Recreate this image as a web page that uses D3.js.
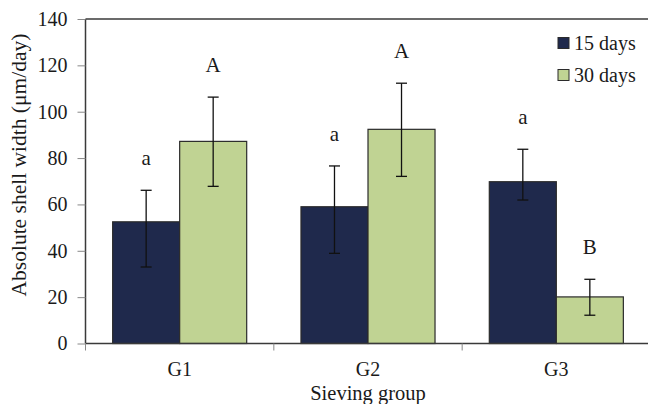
<!DOCTYPE html>
<html>
<head>
<meta charset="utf-8">
<script src="https://cdn.jsdelivr.net/npm/d3@7"></script>
<style>
  body { margin:0; background:#fff; }
  svg text { font-family:'Liberation Serif','DejaVu Serif',serif !important; fill:#1a1a1a; }
</style>
</head>
<body>
<svg id="chart" width="648" height="404"></svg>
<script>
/* ---------- data ---------------------------------------- */
const groups   = ['G1','G2','G3'];
const series   = ['15 days','30 days'];
const mean15   = [52.5, 59.0, 69.8];
const mean30   = [87.2, 92.4, 20.1];
const hi15     = [66.1, 76.6, 83.8];     // error bar top
const lo15     = [33.0, 38.9, 61.9];     // error bar bottom
const hi30     = [106.3, 112.3, 27.7];
const lo30     = [67.8, 72.1, 12.2];
const letters15 = ['a','a','a'];
const letters30 = ['A','A','B'];
const yTicks   = [0,20,40,60,80,100,120,140];

const colours = ['#1f294c','#c0d393'];
const FONT = "'Liberation Serif','DejaVu Serif',serif";

/* ---------- svg & scales -------------------------------- */
const svg = d3.select('#chart');
const L = 85.5, R = 650.5, T = 19, B = 343.5;

const x0 = d3.scaleBand().domain(groups).range([L, R]).padding(0);
const x1 = d3.scaleBand().domain(series).range([0, x0.bandwidth()])
             .paddingInner(0).paddingOuter(0.405);
const y  = d3.scaleLinear().domain([0,140]).range([B, T]);

const rows = groups.flatMap((g,i) => [
  {g, s:series[0], v:mean15[i], hi:hi15[i], lo:lo15[i], lab:letters15[i], c:colours[0]},
  {g, s:series[1], v:mean30[i], hi:hi30[i], lo:lo30[i], lab:letters30[i], c:colours[1]}
]);

/* ---------- bars ---------------------------------------- */
svg.selectAll('.bar').data(rows).enter().append('rect')
  .attr('class','bar')
  .attr('x', d => x0(d.g) + x1(d.s))
  .attr('y', d => y(d.v))
  .attr('width', x1.bandwidth())
  .attr('height', d => B - y(d.v))
  .attr('fill', d => d.c)
  .attr('stroke','#2b2b2b').attr('stroke-width',1.2);

/* ---------- error bars ---------------------------------- */
const eb = svg.selectAll('.err').data(rows).enter().append('g')
  .attr('class','err')
  .attr('transform', d => `translate(${x0(d.g)+x1(d.s)+x1.bandwidth()/2},0)`);
eb.append('line').attr('y1',d=>y(d.hi)).attr('y2',d=>y(d.lo))
  .attr('stroke','#111').attr('stroke-width',1.3);
eb.append('line').attr('x1',-5.5).attr('x2',5.5).attr('y1',d=>y(d.hi)).attr('y2',d=>y(d.hi))
  .attr('stroke','#111').attr('stroke-width',1.3);
eb.append('line').attr('x1',-5.5).attr('x2',5.5).attr('y1',d=>y(d.lo)).attr('y2',d=>y(d.lo))
  .attr('stroke','#111').attr('stroke-width',1.3);

/* significance letters */
svg.selectAll('.sig').data(rows).enter().append('text')
  .attr('class','sig')
  .attr('x', d => x0(d.g)+x1(d.s)+x1.bandwidth()/2)
  .attr('y', d => y(d.hi) - 25)
  .attr('text-anchor','middle')
  .attr('font-family',FONT)
  .style('font-size','21px')
  .text(d => d.lab);

/* ---------- axes ---------------------------------------- */
const axisCol = '#3a3a3a';
svg.append('line').attr('x1',L).attr('x2',648).attr('y1',T).attr('y2',T)
  .attr('stroke',axisCol).attr('stroke-width',1.5);
svg.append('line').attr('x1',L).attr('x2',L).attr('y1',T).attr('y2',B)
  .attr('stroke',axisCol).attr('stroke-width',1.5);
svg.append('line').attr('x1',L).attr('x2',648).attr('y1',B).attr('y2',B)
  .attr('stroke',axisCol).attr('stroke-width',1.5);

const yg = svg.append('g').attr('transform',`translate(${L},0)`)
  .call(d3.axisLeft(y).tickValues(yTicks).tickSize(8).tickPadding(10).tickFormat(d3.format('d')))
  .attr('font-family',FONT);
yg.select('.domain').remove();
yg.selectAll('line').attr('stroke','#888').attr('stroke-width',1);
yg.selectAll('text').style('font-size','20px').attr('fill','#1a1a1a');

/* category boundary ticks */
svg.selectAll('.xt').data(groups).enter().append('line')
  .attr('x1',d=>x0(d)).attr('x2',d=>x0(d)).attr('y1',B).attr('y2',B+7)
  .attr('stroke','#888').attr('stroke-width',1);

svg.selectAll('.xl').data(groups).enter().append('text')
  .attr('x', d => x0(d)+x0.bandwidth()/2)
  .attr('y', 376)
  .attr('text-anchor','middle')
  .attr('font-family',FONT)
  .style('font-size','20px')
  .text(d => d);

svg.append('text').attr('x',(L+R)/2).attr('y',400)
  .attr('text-anchor','middle').attr('font-family',FONT).style('font-size','20.5px')
  .text('Sieving group');

svg.append('text')
  .attr('transform','translate(26,165) rotate(-90)')
  .attr('text-anchor','middle').attr('font-family',FONT).style('font-size','21.5px')
  .text('Absolute shell width (μm/day)');

/* ---------- legend -------------------------------------- */
const lg = svg.selectAll('.lg').data(series).enter().append('g')
  .attr('transform',(d,i)=>`translate(558,${43 + i*32})`);
lg.append('rect').attr('x',0).attr('y',-5.5).attr('width',11).attr('height',11)
  .attr('fill',(d,i)=>colours[i]).attr('stroke','#2b2b2b').attr('stroke-width',1);
lg.append('text').attr('x',16).attr('y',6.5).attr('font-family',FONT)
  .style('font-size','20px').text(d=>d);
</script>
</body>
</html>
